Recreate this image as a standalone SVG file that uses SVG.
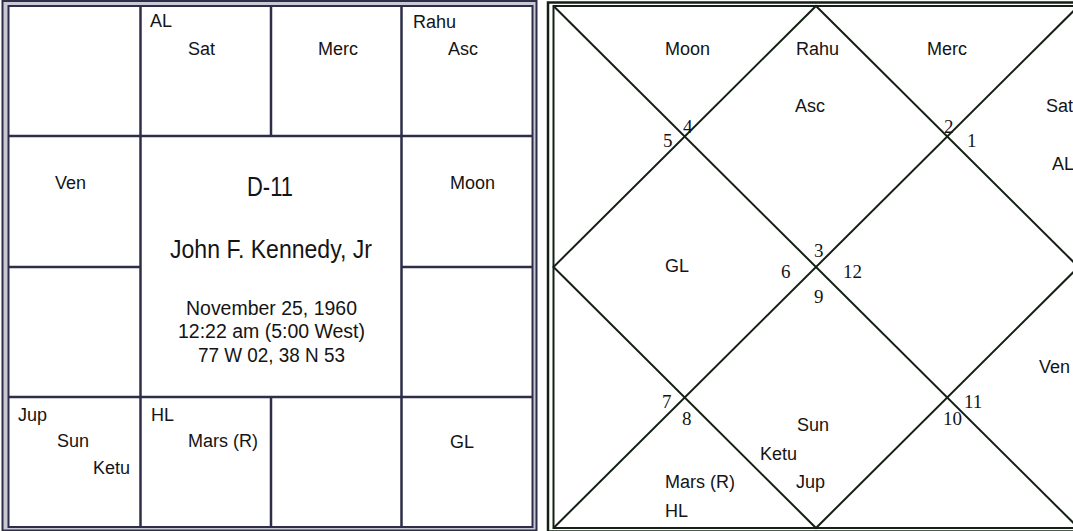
<svg xmlns="http://www.w3.org/2000/svg" width="1073" height="531" viewBox="0 0 1073 531">
<style>
.p{font-family:"Liberation Sans",Arial,sans-serif;font-size:18px;fill:#141414}
.c{font-family:"Liberation Sans",Arial,sans-serif;fill:#141414;text-anchor:middle}
.n{font-family:"Liberation Serif","Times New Roman",serif;font-size:19px;fill:#141414}
.gl{stroke:#2e2e48;stroke-width:2.5;fill:none}
.dl{stroke:#142014;stroke-width:2;fill:none}
</style>
<rect x="0" y="0" width="1073" height="531" fill="#ffffff"/>
<!-- Left (South Indian) chart frame -->
<g id="left-chart-frame">
<rect x="2.5" y="1" width="534" height="529.5" fill="#c9c9d6" stroke="#2e2e48" stroke-width="2"/>
<rect x="8.5" y="6" width="524" height="521" fill="#ffffff" stroke="#2e2e48" stroke-width="2"/>
</g>
<g id="left-grid-lines">
<line class="gl" x1="140.5" y1="6" x2="140.5" y2="527"/>
<line class="gl" x1="401.5" y1="6" x2="401.5" y2="527"/>
<line class="gl" x1="271" y1="6" x2="271" y2="136"/>
<line class="gl" x1="271" y1="397" x2="271" y2="527"/>
<line class="gl" x1="8.5" y1="136" x2="532.5" y2="136"/>
<line class="gl" x1="8.5" y1="397" x2="532.5" y2="397"/>
<line class="gl" x1="8.5" y1="267" x2="140.5" y2="267"/>
<line class="gl" x1="401.5" y1="267" x2="532.5" y2="267"/>
</g>
<g id="L-pisces"></g>
<g id="L-aries"><text class="p" x="150" y="27">AL</text><text class="p" x="188" y="55">Sat</text></g>
<g id="L-taurus"><text class="p" x="318" y="55">Merc</text></g>
<g id="L-gemini"><text class="p" x="413" y="28">Rahu</text><text class="p" x="448" y="55">Asc</text></g>
<g id="L-aquarius"><text class="p" x="55" y="189">Ven</text></g>
<g id="L-cancer"><text class="p" x="450" y="189">Moon</text></g>
<g id="L-capricorn"></g>
<g id="L-leo"></g>
<g id="L-sagittarius"><text class="p" x="18" y="421">Jup</text><text class="p" x="57" y="447">Sun</text><text class="p" x="93" y="474">Ketu</text></g>
<g id="L-scorpio"><text class="p" x="151" y="421">HL</text><text class="p" x="188" y="447">Mars (R)</text></g>
<g id="L-libra"></g>
<g id="L-virgo"><text class="p" x="450" y="448">GL</text></g>
<g id="L-center">
<text class="c" x="270" y="196" font-size="28" textLength="46" lengthAdjust="spacingAndGlyphs">D-11</text>
<text class="c" x="271" y="258" font-size="25" textLength="202" lengthAdjust="spacingAndGlyphs">John F. Kennedy, Jr</text>
<text class="c" x="271.5" y="315" font-size="20.5" textLength="171" lengthAdjust="spacingAndGlyphs">November 25, 1960</text>
<text class="c" x="271.5" y="338" font-size="20" textLength="187" lengthAdjust="spacingAndGlyphs">12:22 am (5:00 West)</text>
<text class="c" x="271.5" y="362" font-size="20" textLength="147" lengthAdjust="spacingAndGlyphs">77 W 02, 38 N 53</text>
</g>
<!-- Right (North Indian) chart frame -->
<g id="right-chart-frame">
<rect x="548" y="2.5" width="536" height="529" fill="#ffffff" stroke="#142014" stroke-width="2.5"/>
<rect x="553.5" y="6" width="525" height="522" fill="#ffffff" stroke="#142014" stroke-width="2"/>
</g>
<g id="right-chart-lines">
<line class="dl" x1="553.5" y1="6" x2="1078.5" y2="528"/>
<line class="dl" x1="1078.5" y1="6" x2="553.5" y2="528"/>
<polygon class="dl" points="816,6 1078.5,267 816,528 553.5,267"/>
</g>
<g id="R-house-1"><text class="p" x="796" y="55">Rahu</text><text class="p" x="795" y="112">Asc</text></g>
<g id="R-house-2"><text class="p" x="927" y="55">Merc</text></g>
<g id="R-house-3"><text class="p" x="1046" y="112">Sat</text><text class="p" x="1052" y="170">AL</text></g>
<g id="R-house-4"><text class="p" x="1039" y="373">Ven</text></g>
<g id="R-house-5"></g>
<g id="R-house-6"></g>
<g id="R-house-7"><text class="p" x="797" y="431">Sun</text><text class="p" x="760" y="460">Ketu</text><text class="p" x="796" y="488">Jup</text></g>
<g id="R-house-8"><text class="p" x="665" y="488">Mars (R)</text><text class="p" x="665" y="517">HL</text></g>
<g id="R-house-9"></g>
<g id="R-house-10"><text class="p" x="665" y="272">GL</text></g>
<g id="R-house-11"></g>
<g id="R-house-12"><text class="p" x="665" y="55">Moon</text></g>
<g id="R-sign-numbers">
<text class="n" x="683" y="133">4</text>
<text class="n" x="663" y="147">5</text>
<text class="n" x="944" y="133">2</text>
<text class="n" x="967" y="147">1</text>
<text class="n" x="814" y="257">3</text>
<text class="n" x="781" y="278">6</text>
<text class="n" x="843" y="278">12</text>
<text class="n" x="814" y="303">9</text>
<text class="n" x="662" y="408">7</text>
<text class="n" x="682" y="425">8</text>
<text class="n" x="964" y="408">11</text>
<text class="n" x="943" y="425">10</text>
</g>
</svg>
